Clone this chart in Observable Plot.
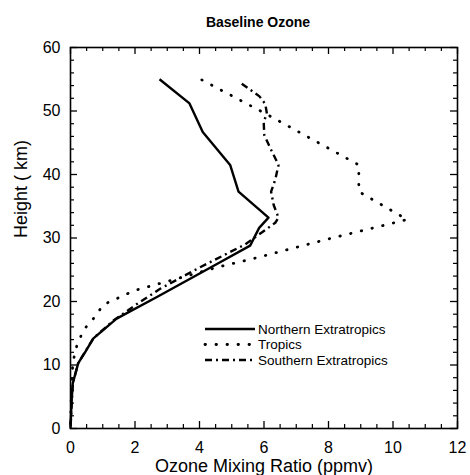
<!DOCTYPE html>
<html><head><meta charset="utf-8">
<script src="https://cdn.jsdelivr.net/npm/d3@7"></script>
<script src="https://cdn.jsdelivr.net/npm/@observablehq/plot@0.6"></script>
<style>body{margin:0;background:#fff}</style>
</head><body><div id="chart"></div>
<script>
const chartTitle = "Baseline Ozone";
const xTitle = "Ozone Mixing Ratio (ppmv)";
const yTitle = "Height ( km)";
const seriesNames = ["Northern Extratropics", "Tropics", "Southern Extratropics"];

const northHeight = [55.0, 51.2, 46.7, 41.5, 37.3, 33.2, 31.6, 28.8, 25.9, 20.7, 17.3, 14.2, 12.0, 10.3, 7.1, 4.0, 0];
const northOzone  = [2.76, 3.69, 4.10, 4.95, 5.21, 6.14, 5.85, 5.57, 4.54, 2.68, 1.43, 0.71, 0.45, 0.24, 0.07, 0.03, 0];

const tropicsHeight = [54.9, 49.6, 41.5, 37.3, 32.9, 29.8, 26.7, 25.5, 21.7, 19.5, 17.3, 15.5, 12.3, 8.7, 0];
const tropicsOzone  = [4.07, 6.04, 8.94, 8.94, 10.44, 7.96, 5.63, 4.64, 1.97, 1.02, 0.71, 0.40, 0.14, 0.04, 0];

const southHeight = [54.3, 52.3, 51.1, 49.6, 48.3, 46.2, 44.1, 41.5, 39.2, 37.3, 35.2, 33.2, 32.4, 29.0, 25.4, 22.0, 19.6, 17.0, 14.2, 10.3, 7.1, 0];
const southOzone  = [5.31, 5.86, 6.04, 6.09, 5.99, 6.01, 6.20, 6.45, 6.35, 6.22, 6.30, 6.45, 6.35, 5.42, 4.02, 2.78, 2.06, 1.33, 0.71, 0.24, 0.07, 0];

const xTickLabels = [0, 2, 4, 6, 8, 10, 12];
const yTickLabels = [0, 10, 20, 30, 40, 50, 60];
const xMinorStep = 0.5;
const yMinorStep = 2;

const heights = [northHeight, tropicsHeight, southHeight];
const ozones = [northOzone, tropicsOzone, southOzone];
const rows = seriesNames.flatMap((name, s) =>
  heights[s].map((h, i) => ({series: name, height: h, ozone: ozones[s][i]})));

const lineStyles = [
  {strokeWidth: 2.4, dash: null, cap: "butt"},
  {strokeWidth: 2.8, dash: "0.5,10.5", cap: "round"},
  {strokeWidth: 2.4, dash: "7,4,2,4", cap: "butt"}
];

const W = 470, H = 475, mL = 70, mR = 13, mT = 47, mB = 47;
const innerH = H - mT - mB, innerW = W - mL - mR;
const majorLen = 7, minorLen = 4;
const xMinor = d3.range(0, 12 + 1e-9, xMinorStep).filter(v => !xTickLabels.includes(v));
const yMinor = d3.range(0, 60 + 1e-9, yMinorStep).filter(v => !yTickLabels.includes(v));
const font = "'Liberation Sans', Arial, Helvetica, sans-serif";

const plot = Plot.plot({
  width: W, height: H,
  marginLeft: mL, marginRight: mR, marginTop: mT, marginBottom: mB,
  style: {fontFamily: font, fontSize: "16px", background: "white", color: "black"},
  x: {domain: [0, 12]},
  y: {domain: [0, 60]},
  marks: [
    // inward ticks on all four sides
    Plot.tickX(xTickLabels, {x: d => d, insetTop: innerH - majorLen, stroke: "black", strokeWidth: 1.3}),
    Plot.tickX(xTickLabels, {x: d => d, insetBottom: innerH - majorLen, stroke: "black", strokeWidth: 1.3}),
    Plot.tickX(xMinor, {x: d => d, insetTop: innerH - minorLen, stroke: "black", strokeWidth: 1.2}),
    Plot.tickX(xMinor, {x: d => d, insetBottom: innerH - minorLen, stroke: "black", strokeWidth: 1.2}),
    Plot.tickY(yTickLabels, {y: d => d, insetRight: innerW - majorLen, stroke: "black", strokeWidth: 1.3}),
    Plot.tickY(yTickLabels, {y: d => d, insetLeft: innerW - majorLen, stroke: "black", strokeWidth: 1.3}),
    Plot.tickY(yMinor, {y: d => d, insetRight: innerW - minorLen, stroke: "black", strokeWidth: 1.2}),
    Plot.tickY(yMinor, {y: d => d, insetLeft: innerW - minorLen, stroke: "black", strokeWidth: 1.2}),
    Plot.frame({stroke: "black", strokeWidth: 1.6}),
    Plot.axisX(xTickLabels, {tickSize: 0, tickPadding: 13, label: null, fontSize: 16}),
    Plot.axisY(yTickLabels, {tickSize: 0, tickPadding: 10, label: null, fontSize: 16}),
    ...seriesNames.map((name, s) => Plot.line(rows.filter(d => d.series === name), {
      x: "ozone", y: "height", stroke: "black",
      strokeWidth: lineStyles[s].strokeWidth,
      strokeDasharray: lineStyles[s].dash,
      strokeLinecap: lineStyles[s].cap,
      strokeLinejoin: "round"
    })),
    Plot.text([chartTitle], {frameAnchor: "top", dy: -25, dx: -6, fontSize: 14, fontWeight: "bold", lineAnchor: "middle"}),
    Plot.text([xTitle], {frameAnchor: "bottom", dy: 38, fontSize: 18, lineAnchor: "middle"}),
    Plot.text([yTitle], {frameAnchor: "left", dx: -49, rotate: -90, fontSize: 18, lineAnchor: "middle"})
  ]
});

// legend drawn inside the plot area
const svg = d3.select(plot);
const lg = svg.append("g").attr("font-family", font).attr("font-size", 13.5)
  .attr("fill", "black").attr("text-anchor", "start");
const legX0 = 205, legX1 = 255, legY0 = 329, legDy = 15.5;
seriesNames.forEach((name, s) => {
  const y = legY0 + s * legDy;
  lg.append("line").attr("x1", legX0).attr("x2", legX1).attr("y1", y).attr("y2", y)
    .attr("stroke", "black").attr("stroke-width", lineStyles[s].strokeWidth)
    .attr("stroke-dasharray", lineStyles[s].dash).attr("stroke-linecap", lineStyles[s].cap);
  lg.append("text").attr("x", legX1 + 3).attr("y", y).attr("dy", "0.35em").text(name);
});

document.getElementById("chart").appendChild(plot);
</script>
</body></html>
